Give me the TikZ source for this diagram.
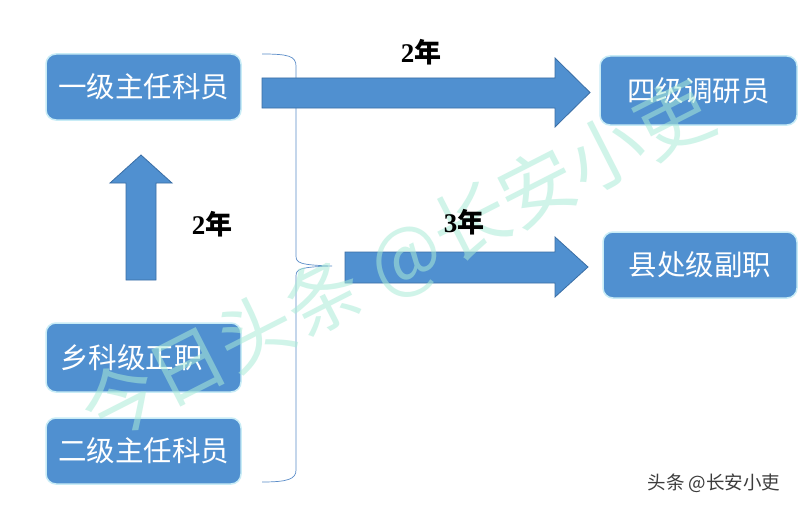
\documentclass[tikz,border=0pt]{standalone}
\usepackage{fontspec}
\setmainfont{Liberation Serif}
\newfontfamily\cjk{Noto Sans CJK SC}
\usetikzlibrary{calc}
\definecolor{boxblue}{RGB}{80,144,208}
\definecolor{boxedge}{RGB}{200,236,246}
\definecolor{arrowblue}{RGB}{80,144,208}
\definecolor{arrowedge}{RGB}{58,110,165}
\definecolor{bracecol}{RGB}{90,140,200}
\definecolor{wmark}{RGB}{170,235,215}
\tikzset{
  rankbox/.style={draw=boxedge, line width=1.5pt, fill=boxblue, rounded corners=10pt,
    text=white, font=\cjk\fontsize{28.5}{31}\selectfont, inner sep=0pt},
  blockarrow/.style={draw=arrowedge, line width=0.8pt, fill=arrowblue},
  yearlabel/.style={font=\bfseries\fontsize{27}{29}\selectfont, text=black},
  bracestyle/.style={draw=bracecol, line width=0.7pt},
}
\newcommand{\yr}[1]{#1{\cjk\bfseries 年}}
\begin{document}
\begin{tikzpicture}[x=1pt,y=-1pt]
\useasboundingbox (0,0) rectangle (799,508);
\fill[white] (0,0) rectangle (799,508);

% boxes
\node[rankbox, minimum width=195pt, minimum height=66pt] (a) at (143.5,87) {一级主任科员};
\node[rankbox, minimum width=197pt, minimum height=69pt] (b) at (698.5,90.5) {四级调研员};
\node[rankbox, minimum width=194pt, minimum height=66pt] (c) at (700,265) {县处级副职};
\node[rankbox, minimum width=195pt, minimum height=69pt, text width=167pt, align=left] (d) at (143.5,357.5) {乡科级正职};
\node[rankbox, minimum width=195pt, minimum height=66pt] (e) at (143.5,451) {二级主任科员};

% brace
\coordinate (bt) at (262,54);
\coordinate (bm) at (332,266);
\coordinate (bb) at (262,482);
\draw[bracestyle] (bt) .. controls (288,54) and (296,56) .. (296,66)
  -- (296,256) .. controls (296,263) and (300,265) .. (bm)
  .. controls (300,267) and (296,269) .. (296,276)
  -- (296,470) .. controls (296,479) and (288,482) .. (bb);

% block arrows
\draw[blockarrow] (262,78) -- (555,78) -- (555,58) -- (590,92.5) -- (555,127) -- (555,108) -- (262,108) -- cycle;
\draw[blockarrow] (345,252) -- (555,252) -- (555,237) -- (588,267) -- (555,297) -- (555,283) -- (345,283) -- cycle;
\draw[blockarrow] (126,280) -- (126,183) -- (110,183) -- (141,155) -- (172,183) -- (156,183) -- (156,280) -- cycle;

% watermark
\node[rotate=27, text=wmark, opacity=0.55, font=\cjk\fontsize{76}{80}\selectfont] (wm) at (398,262) {今日头条 @长安小吏};

% labels
\node[yearlabel] (l1) at (421,52) {\yr{2}};
\node[yearlabel] (l2) at (212,224) {\yr{2}};
\node[yearlabel] (l3) at (464,222) {\yr{3}};

% signature
\node[text={rgb,255:red,60;green,60;blue,60}, font=\cjk\fontsize{18.5}{20}\selectfont, anchor=east] (sig) at (784,483) {头条 @长安小吏};
\end{tikzpicture}
\end{document}
